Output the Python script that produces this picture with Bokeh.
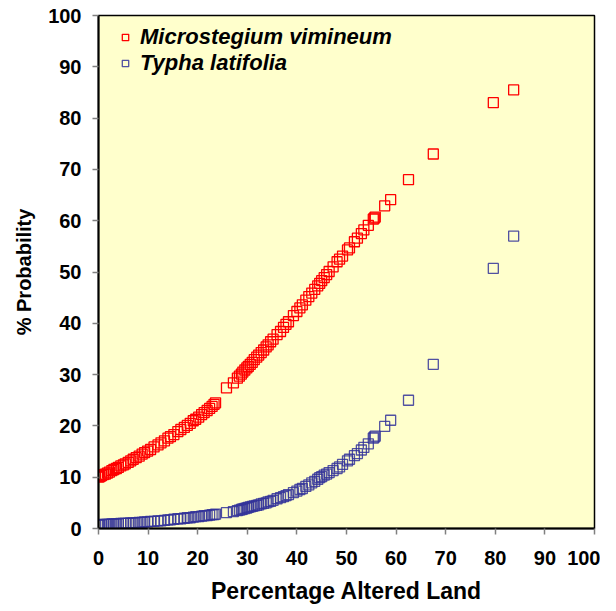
from bokeh.plotting import figure
from bokeh.models import Range1d, FixedTicker, Legend, LegendItem
from bokeh.embed import file_html
from bokeh.resources import INLINE

# Data
altered_land = [
    0.0, 0.3, 0.6, 1.0, 1.4, 1.8, 2.2, 2.7, 3.1, 3.6, 4.0, 4.5, 5.0, 5.4, 6.0,
    6.5, 7.0, 7.6, 8.2, 8.8, 9.3, 9.9, 10.5, 11.2, 12.0, 12.6, 13.3, 14.0, 14.5,
    15.2, 16.0, 16.6, 17.3, 17.9, 18.5, 19.1, 19.6, 20.2, 20.8, 21.3, 21.9, 22.4,
    22.9, 23.3, 23.6,
    25.8, 27.2, 28.0, 28.4, 28.8, 29.1, 29.5, 29.9, 30.2, 30.6, 31.0, 31.4, 31.9,
    32.3, 32.8, 33.3, 33.8, 34.2, 34.7, 35.2, 36.0, 36.7, 37.3, 37.8, 38.3, 39.3,
    40.0, 40.6, 41.1, 41.8, 42.4, 43.0, 43.6, 44.2, 44.6, 45.0, 45.5, 46.0, 46.5,
    47.3, 48.1, 48.6, 49.2, 50.2, 50.6, 51.6, 52.2, 53.0, 53.5, 54.4, 55.4, 55.6,
    55.8, 57.7, 58.9, 62.5, 67.5, 79.6, 83.7,
]

microstegium = [
    10.0, 10.1, 10.3, 10.5, 10.6, 10.8, 11.0, 11.3, 11.5, 11.7, 11.9, 12.2, 12.4,
    12.6, 12.9, 13.2, 13.5, 13.8, 14.1, 14.5, 14.8, 15.1, 15.4, 15.9, 16.3, 16.7,
    17.1, 17.6, 17.9, 18.3, 18.9, 19.3, 19.7, 20.1, 20.5, 21.0, 21.3, 21.7, 22.2,
    22.6, 23.0, 23.4, 23.8, 24.2, 24.5,
    27.4, 28.4, 29.3, 29.7, 30.1, 30.5, 30.9, 31.3, 31.6, 32.0, 32.4, 32.9, 33.4,
    33.8, 34.3, 34.8, 35.4, 35.8, 36.4, 36.9, 37.8, 38.4, 39.2, 39.8, 40.3, 41.5,
    42.3, 43.0, 43.6, 44.5, 45.2, 45.9, 46.6, 47.3, 47.8, 48.3, 48.9, 49.5, 50.1,
    51.0, 52.0, 52.5, 53.1, 54.3, 54.7, 55.9, 56.6, 57.5, 58.2, 59.1, 60.3, 60.5,
    60.7, 62.9, 64.1, 68.0, 73.0, 83.0, 85.5,
]

typha = [
    0.7, 0.7, 0.7, 0.8, 0.8, 0.8, 0.8, 0.9, 0.9, 0.9, 0.9, 1.0, 1.0, 1.0, 1.0,
    1.1, 1.1, 1.1, 1.2, 1.2, 1.3, 1.3, 1.4, 1.4, 1.5, 1.5, 1.6, 1.7, 1.7, 1.8,
    1.9, 1.9, 2.0, 2.1, 2.1, 2.2, 2.3, 2.3, 2.4, 2.5, 2.5, 2.6, 2.7, 2.7, 2.8,
    3.1, 3.3, 3.5, 3.6, 3.7, 3.8, 3.9, 4.0, 4.1, 4.2, 4.3, 4.4, 4.5, 4.6, 4.8,
    4.9, 5.0, 5.2, 5.3, 5.5, 5.8, 6.0, 6.2, 6.4, 6.6, 7.0, 7.3, 7.6, 7.8, 8.2,
    8.5, 8.9, 9.2, 9.6, 9.9, 10.1, 10.4, 10.6, 10.9, 11.3, 11.7, 12.0, 12.5,
    13.2, 13.5, 14.2, 14.6, 15.3, 15.8, 16.5, 17.6, 17.8, 18.0, 19.9, 21.1,
    25.0, 32.0, 50.7, 57.0,
]

series_names = ["Microstegium vimineum", "Typha latifolia"]
ticks = [0, 10, 20, 30, 40, 50, 60, 70, 80, 90, 100]

FONT = "Liberation Sans"

p = figure(width=600, height=608, output_backend="svg", toolbar_location=None,
           x_range=Range1d(0, 100), y_range=Range1d(0, 100),
           min_border_left=98, min_border_right=6, min_border_top=15,
           min_border_bottom=80)

p.background_fill_color = "#FFFFCC"
p.border_fill_color = "white"
p.outline_line_color = "black"
p.outline_line_width = 1.5
p.grid.visible = False

r1 = p.scatter(altered_land, microstegium, marker="square", size=10,
               line_color="#FF0000", fill_alpha=0, line_width=1.3)
r2 = p.scatter(altered_land, typha, marker="square", size=10,
               line_color="#333399", fill_alpha=0, line_width=1.3, line_alpha=0.85)

for ax in (p.xaxis[0], p.yaxis[0]):
    ax.ticker = FixedTicker(ticks=ticks)
    ax.minor_tick_line_color = None
    ax.axis_line_color = "black"
    ax.axis_line_width = 2
    ax.major_tick_line_color = "#808080"
    ax.major_tick_line_width = 1.5
    ax.major_tick_out = 6
    ax.major_tick_in = 0
    ax.major_label_text_font = FONT
    ax.major_label_text_font_style = "bold"
    ax.major_label_text_font_size = "20px"
    ax.major_label_text_color = "black"
    ax.axis_label_text_font = FONT
    ax.axis_label_text_font_style = "bold"
    ax.axis_label_text_color = "black"

p.xaxis.axis_label = "Percentage Altered Land"
p.yaxis.axis_label = "% Probability"
p.xaxis.axis_label_text_font_size = "23px"
p.yaxis.axis_label_text_font_size = "20px"
p.xaxis.major_label_standoff = 16
p.yaxis.major_label_standoff = 11
p.xaxis.axis_label_standoff = 10
p.yaxis.axis_label_standoff = 10

legend = Legend(items=[LegendItem(label=series_names[0], renderers=[r1]),
                       LegendItem(label=series_names[1], renderers=[r2])],
                location=(19, 452))
legend.background_fill_alpha = 0
legend.border_line_color = None
legend.label_text_font = FONT
legend.label_text_font_style = "bold italic"
legend.label_text_font_size = "22px"
legend.label_text_color = "black"
legend.glyph_width = 16
legend.glyph_height = 24
legend.label_standoff = 7
legend.spacing = 0
legend.padding = 0
legend.margin = 0
legend.label_height = 24
p.add_layout(legend)

open("out.html", "w").write(file_html(p, INLINE))
